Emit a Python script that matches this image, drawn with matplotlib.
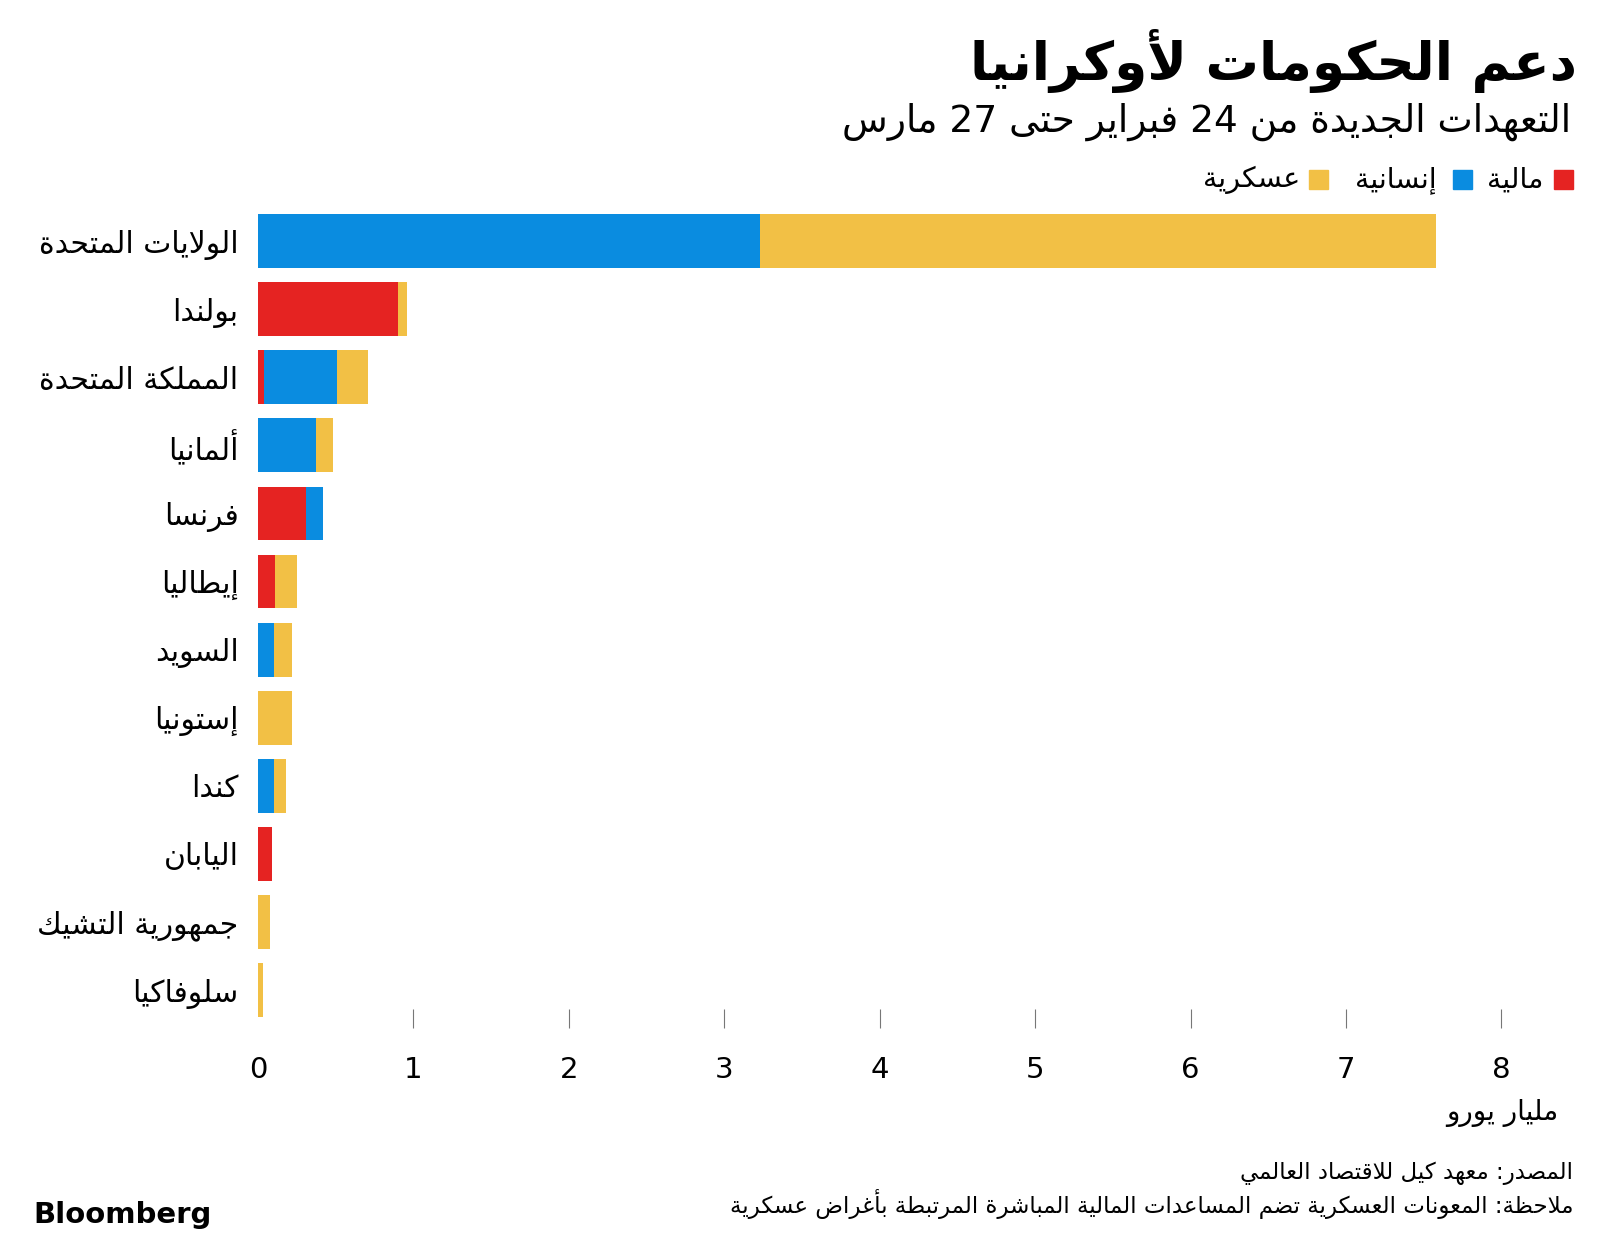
import re
import matplotlib
matplotlib.use("Agg")
import matplotlib.pyplot as plt
from matplotlib.patches import Rectangle

# --- data (billion euro), 24 Feb - 27 Mar ---
countries = ["الولايات المتحدة", "بولندا", "المملكة المتحدة", "ألمانيا", "فرنسا",
             "إيطاليا", "السويد", "إستونيا", "كندا", "اليابان",
             "جمهورية التشيك", "سلوفاكيا"]
financial = [0.00, 0.90, 0.04, 0.00, 0.31, 0.11, 0.00, 0.00, 0.00, 0.09, 0.00, 0.00]
humanitarian = [3.23, 0.00, 0.47, 0.37, 0.11, 0.00, 0.10, 0.00, 0.10, 0.00, 0.00, 0.00]
military = [4.35, 0.06, 0.20, 0.11, 0.00, 0.14, 0.12, 0.22, 0.08, 0.00, 0.08, 0.035]
xticks = [0, 1, 2, 3, 4, 5, 6, 7, 8]

RED = "#E52322"
BLUE = "#0A8CE0"
YELLOW = "#F2C045"

# --- minimal arabic shaping (matplotlib 3.10 has no text shaping) ---
_FORMS = {'ء': (0xFE80, 1), 'آ': (0xFE81, 2), 'أ': (0xFE83, 2), 'ؤ': (0xFE85, 2),
          'إ': (0xFE87, 2), 'ئ': (0xFE89, 4), 'ا': (0xFE8D, 2), 'ب': (0xFE8F, 4),
          'ة': (0xFE93, 2), 'ت': (0xFE95, 4), 'ث': (0xFE99, 4), 'ج': (0xFE9D, 4),
          'ح': (0xFEA1, 4), 'خ': (0xFEA5, 4), 'د': (0xFEA9, 2), 'ذ': (0xFEAB, 2),
          'ر': (0xFEAD, 2), 'ز': (0xFEAF, 2), 'س': (0xFEB1, 4), 'ش': (0xFEB5, 4),
          'ص': (0xFEB9, 4), 'ض': (0xFEBD, 4), 'ط': (0xFEC1, 4), 'ظ': (0xFEC5, 4),
          'ع': (0xFEC9, 4), 'غ': (0xFECD, 4), 'ف': (0xFED1, 4), 'ق': (0xFED5, 4),
          'ك': (0xFED9, 4), 'ل': (0xFEDD, 4), 'م': (0xFEE1, 4), 'ن': (0xFEE5, 4),
          'ه': (0xFEE9, 4), 'و': (0xFEED, 2), 'ى': (0xFEEF, 2), 'ي': (0xFEF1, 4)}
_LAM_ALEF = {'آ': 0xFEF5, 'أ': 0xFEF7, 'إ': 0xFEF9, 'ا': 0xFEFB}


def _info(u):
    if len(u) == 2:
        return (_LAM_ALEF[u[1]], 2)
    return _FORMS.get(u)


def shape(s):
    units = []
    i = 0
    while i < len(s):
        if s[i] == 'ل' and i + 1 < len(s) and s[i + 1] in _LAM_ALEF:
            units.append(s[i:i + 2])
            i += 2
        else:
            units.append(s[i])
            i += 1
    out = []
    for k, u in enumerate(units):
        inf = _info(u)
        if inf is None:
            out.append(u)
            continue
        base, n = inf
        prv = _info(units[k - 1]) if k > 0 else None
        nxt = _info(units[k + 1]) if k + 1 < len(units) else None
        pj = n > 1 and prv is not None and prv[1] == 4
        nj = n == 4 and nxt is not None and nxt[1] > 1
        if n == 1:
            f = 0
        elif n == 2:
            f = 1 if pj else 0
        else:
            f = 3 if (pj and nj) else 1 if pj else 2 if nj else 0
        out.append(chr(base + f))
    return "".join(out)


def ar(s):
    s = shape(s)
    toks = re.findall(r"[0-9A-Za-z.]+|[^0-9A-Za-z.]+", s)
    res = []
    for t in reversed(toks):
        if re.match(r"[0-9A-Za-z.]", t):
            res.append(t)
        else:
            res.append(t[::-1])
    return "".join(res)


plt.rcParams['font.family'] = ['DejaVu Sans']

W, H = 1600, 1244
fig = plt.figure(figsize=(W / 100, H / 100), dpi=100)


def fx(px):
    return px / W


def fy(py):
    return 1 - py / H


ax = fig.add_axes([fx(258), fy(1028), fx(1290), (1028 - 207) / H])
ypos = list(range(len(countries)))
left2 = [a + b for a, b in zip(financial, humanitarian)]
ax.barh(ypos, financial, height=0.79, color=RED, linewidth=0)
ax.barh(ypos, humanitarian, left=financial, height=0.79, color=BLUE, linewidth=0)
ax.barh(ypos, military, left=left2, height=0.79, color=YELLOW, linewidth=0)

ax.set_xlim(0, 8.3)
ax.set_ylim(11.557, -0.5)
for s in ax.spines.values():
    s.set_visible(False)

ax.set_yticks(ypos)
ax.set_yticklabels([ar(c) for c in countries], fontsize=21.5)
ax.tick_params(axis='y', length=0, pad=14)

ax.set_xticks(xticks)
ax.set_xticklabels([str(t) for t in xticks], fontsize=21)
ax.tick_params(axis='x', direction='in', length=13.7, width=0.8, color="#777777",
               pad=20)
ax.xaxis.get_major_ticks()[0].tick1line.set_visible(False)

# title block
fig.text(fx(1577), fy(61), ar("دعم الحكومات لأوكرانيا"), fontsize=38.3,
         fontweight='bold', ha='right', va='center')
fig.text(fx(1571), fy(122), ar("التعهدات الجديدة من 24 فبراير حتى 27 مارس"),
         fontsize=27, ha='right', va='center')

# legend
leg = [("مالية", RED, 1554, 1543), ("إنسانية", BLUE, 1453, 1437),
       ("عسكرية", YELLOW, 1309, 1300)]
for lab, col, sx, tx in leg:
    fig.patches.append(Rectangle((fx(sx), fy(189)), fx(19), 19 / H, color=col,
                                 transform=fig.transFigure, figure=fig))
    fig.text(fx(tx), fy(180), ar(lab), fontsize=20.5, ha='right', va='center')

fig.text(fx(1502), fy(1113), ar("مليار يورو"), fontsize=20, ha='center', va='center')

# footer
fig.text(fx(1573), fy(1173), ar("المصدر: معهد كيل للاقتصاد العالمي"), fontsize=16.5,
         ha='right', va='center')
fig.text(fx(1573), fy(1204),
         ar("ملاحظة: المعونات العسكرية تضم المساعدات المالية المباشرة المرتبطة بأغراض عسكرية"),
         fontsize=16.5, ha='right', va='center')
fig.text(fx(33), fy(1215), "Bloomberg", fontsize=21, fontweight='bold',
         ha='left', va='center')

fig.savefig("out.png", dpi=100, facecolor="white")
